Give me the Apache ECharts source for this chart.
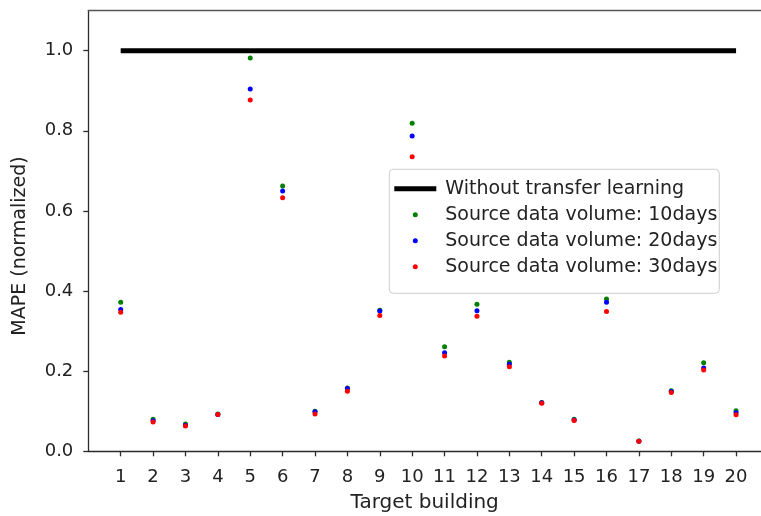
<!DOCTYPE html>
<html>
<head>
<meta charset="utf-8">
<script src="https://cdn.jsdelivr.net/npm/echarts@6/dist/echarts.min.js"></script>
<style>html,body{margin:0;padding:0;background:#fff;}#c{width:761px;height:516px;}</style>
</head>
<body>
<div id="c"></div>
<script>
var categories = [1,2,3,4,5,6,7,8,9,10,11,12,13,14,15,16,17,18,19,20];
var baseline = [1.0, 1.0];
var baselineX = [1, 20];
var vol10 = [0.372,0.080,0.068,0.093,0.982,0.662,0.100,0.158,0.352,0.819,0.261,0.367,0.222,0.122,0.080,0.380,0.026,0.151,0.221,0.101];
var vol20 = [0.354,0.076,0.065,0.092,0.904,0.650,0.099,0.157,0.350,0.787,0.246,0.351,0.217,0.121,0.078,0.372,0.025,0.149,0.208,0.096];
var vol30 = [0.347,0.073,0.063,0.092,0.877,0.633,0.093,0.150,0.339,0.735,0.238,0.337,0.211,0.120,0.077,0.349,0.025,0.147,0.203,0.091];
var yTicks = [0, 0.2, 0.4, 0.6, 0.8, 1.0];
var names = ['Without transfer learning','Source data volume: 10days','Source data volume: 20days','Source data volume: 30days'];

function pairs(xs, ys){ return xs.map(function(x,i){ return [x, ys[i]]; }); }

var font = 'DejaVu Sans';
var chart = echarts.init(document.getElementById('c'), null, {renderer:'canvas'});
chart.setOption({
  animation: false,
  backgroundColor: '#fff',
  grid: {left: 88.3, right: 0, top: 10.6, bottom: 64.7, containLabel: false, outerBoundsMode: 'none'},
  xAxis: [{
    type: 'value', min: 0, max: 20.77, position: 'bottom',
    splitLine: {show: false},
    axisLine: {show: true, onZero: false, lineStyle: {color: '#2b2b2b', width: 1.3}},
    axisTick: {show: true, length: 5, customValues: categories, lineStyle: {color: '#2b2b2b', width: 1.3}},
    axisLabel: {customValues: categories, margin: 17, fontSize: 18, fontFamily: font, color: '#222'},
    name: 'Target building', nameLocation: 'middle', nameGap: 41,
    nameTextStyle: {fontSize: 20, fontFamily: font, color: '#222'}
  }, {
    type: 'value', min: 0, max: 20.77, position: 'top',
    splitLine: {show: false},
    axisLine: {show: true, onZero: false, lineStyle: {color: '#555', width: 1.3}},
    axisTick: {show: false}, axisLabel: {show: false}
  }],
  yAxis: {
    type: 'value', min: 0, max: 1.1, interval: 0.2,
    splitLine: {show: false},
    axisLine: {show: true, onZero: false, lineStyle: {color: '#2b2b2b', width: 1.3}},
    axisTick: {show: true, length: 5, customValues: yTicks, lineStyle: {color: '#2b2b2b', width: 1.3}},
    axisLabel: {customValues: yTicks, margin: 15, fontSize: 18, fontFamily: font, color: '#222',
      formatter: function(v){ return v.toFixed(1); }}
  },
  graphic: [{
    type: 'text', x: 20, y: 246, rotation: Math.PI/2,
    style: {text: 'MAPE (normalized)', x: 0, y: 0, align: 'center', verticalAlign: 'middle',
      fontSize: 19, fontFamily: font, fill: '#222'}
  }],
  legend: {
    orient: 'vertical', left: 389.3, top: 169.3,
    padding: [10, 2, 17, 5],
    itemWidth: 42, itemHeight: 5, itemGap: 7,
    borderColor: '#cccccc', borderWidth: 1, borderRadius: 4,
    backgroundColor: 'rgba(255,255,255,0.8)',
    textStyle: {fontSize: 19, fontFamily: font, color: '#222', lineHeight: 19, padding: [0,0,0,4]},
    data: [
      {name: names[0], icon: 'rect', itemStyle: {color: '#000'}},
      {name: names[1], icon: 'circle'},
      {name: names[2], icon: 'circle'},
      {name: names[3], icon: 'circle'}
    ]
  },
  series: [
    {name: names[0], type: 'line', data: pairs(baselineX, baseline), symbol: 'none',
      lineStyle: {color: '#000', width: 5}, itemStyle: {color: '#000'}, z: 1},
    {name: names[1], type: 'scatter', data: pairs(categories, vol10), symbolSize: 5,
      itemStyle: {color: '#008000', opacity: 1}, z: 2},
    {name: names[2], type: 'scatter', data: pairs(categories, vol20), symbolSize: 5,
      itemStyle: {color: '#0000ff', opacity: 1}, z: 3},
    {name: names[3], type: 'scatter', data: pairs(categories, vol30), symbolSize: 5,
      itemStyle: {color: '#ff0000', opacity: 1}, z: 4}
  ]
});
</script>
</body>
</html>
